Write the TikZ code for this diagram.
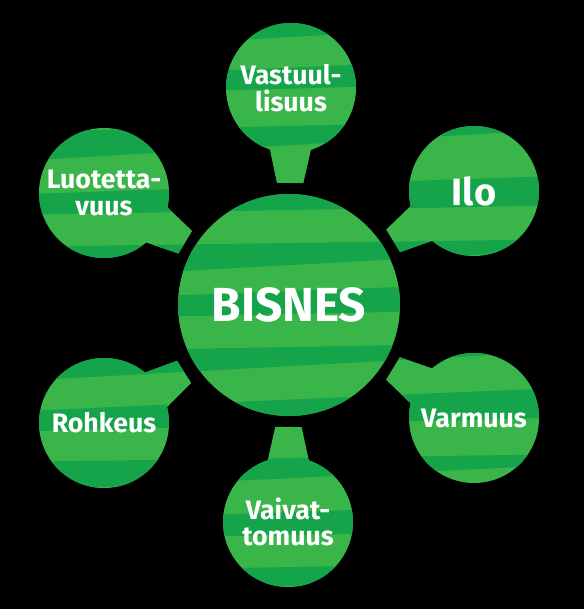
\documentclass[tikz,border=0pt]{standalone}
\usepackage{fontspec}
\setmainfont{Fira Sans}
\usetikzlibrary{calc}
\pgfdeclarelayer{background}
\pgfsetlayers{background,main}

\definecolor{leafgreen}{RGB}{58,181,74}
\definecolor{deepgreen}{RGB}{22,164,74}

\newcommand{\greenbands}{%
  \foreach \y/\r/\tl/\tr in {25/-10/28/6, 80/-25/16/26, 132/-12/30/8,
      195/-20/20/30, 247/-8/34/10, 302/-22/18/28, 352/-10/30/8,
      412/-25/20/30, 462/-8/30/10, 522/-20/18/28, 572/-10/30/8}{
    \fill[deepgreen] (0,\y) -- (584,\y+\r) -- (584,\y+\r+\tr) -- (0,\y+\tl) -- cycle;
  }}
\newcommand{\bubbletail}[1]{%
  ($(#1)!0.85cm!90:(bisnes)$)
  -- ($(#1)!2.375cm!(bisnes)!0.33cm!90:(bisnes)$)
  -- ($(#1)!2.375cm!(bisnes)!0.33cm!-90:(bisnes)$)
  -- ($(#1)!0.85cm!-90:(bisnes)$) -- cycle}

\begin{document}
\begin{tikzpicture}[
  x=0.025cm, y=-0.025cm,
  bubble/.style={
    circle,
    inner sep=0pt,
    minimum size=3.25cm,
    text=white,
    align=center,
    font=\bfseries\fontsize{19}{19}\selectfont
  },
  hub/.style={
    bubble,
    minimum size=5.55cm,
    font=\bfseries\fontsize{34}{38}\selectfont
  },
  bigword/.style={font=\bfseries\fontsize{27}{30}\selectfont}
]

\node[hub] (bisnes) at (289,305) {BISNES};
\node[bubble] (vastuu) at (291,88) {Vastuul-\\lisuus};
\node[bubble, bigword] (ilo) at (474,191) {Ilo};
\node[bubble] (varmuus) at (474,418) {Varmuus};
\node[bubble] (vaivat) at (288,522) {Vaivat-\\tomuus};
\node[bubble] (rohkeus) at (104,423) {Rohkeus};
\node[bubble] (luotetta) at (104,193) {Luotetta-\\vuus};

\begin{pgfonlayer}{background}
  \fill[black] (0,0) rectangle (584,609);
  \fill[leafgreen] (bisnes) circle (111);
  \begin{scope}
    \clip (bisnes) circle (111);
    \greenbands
  \end{scope}
  \foreach \s in {vastuu,ilo,varmuus,vaivat,rohkeus,luotetta}{
    \fill[leafgreen] (\s) circle (65);
    \fill[leafgreen] \bubbletail{\s};
    \begin{scope}
      \clip (\s) circle (65);
      \greenbands
    \end{scope}
    \begin{scope}
      \clip \bubbletail{\s};
      \greenbands
    \end{scope}
  }
\end{pgfonlayer}

\end{tikzpicture}
\end{document}
